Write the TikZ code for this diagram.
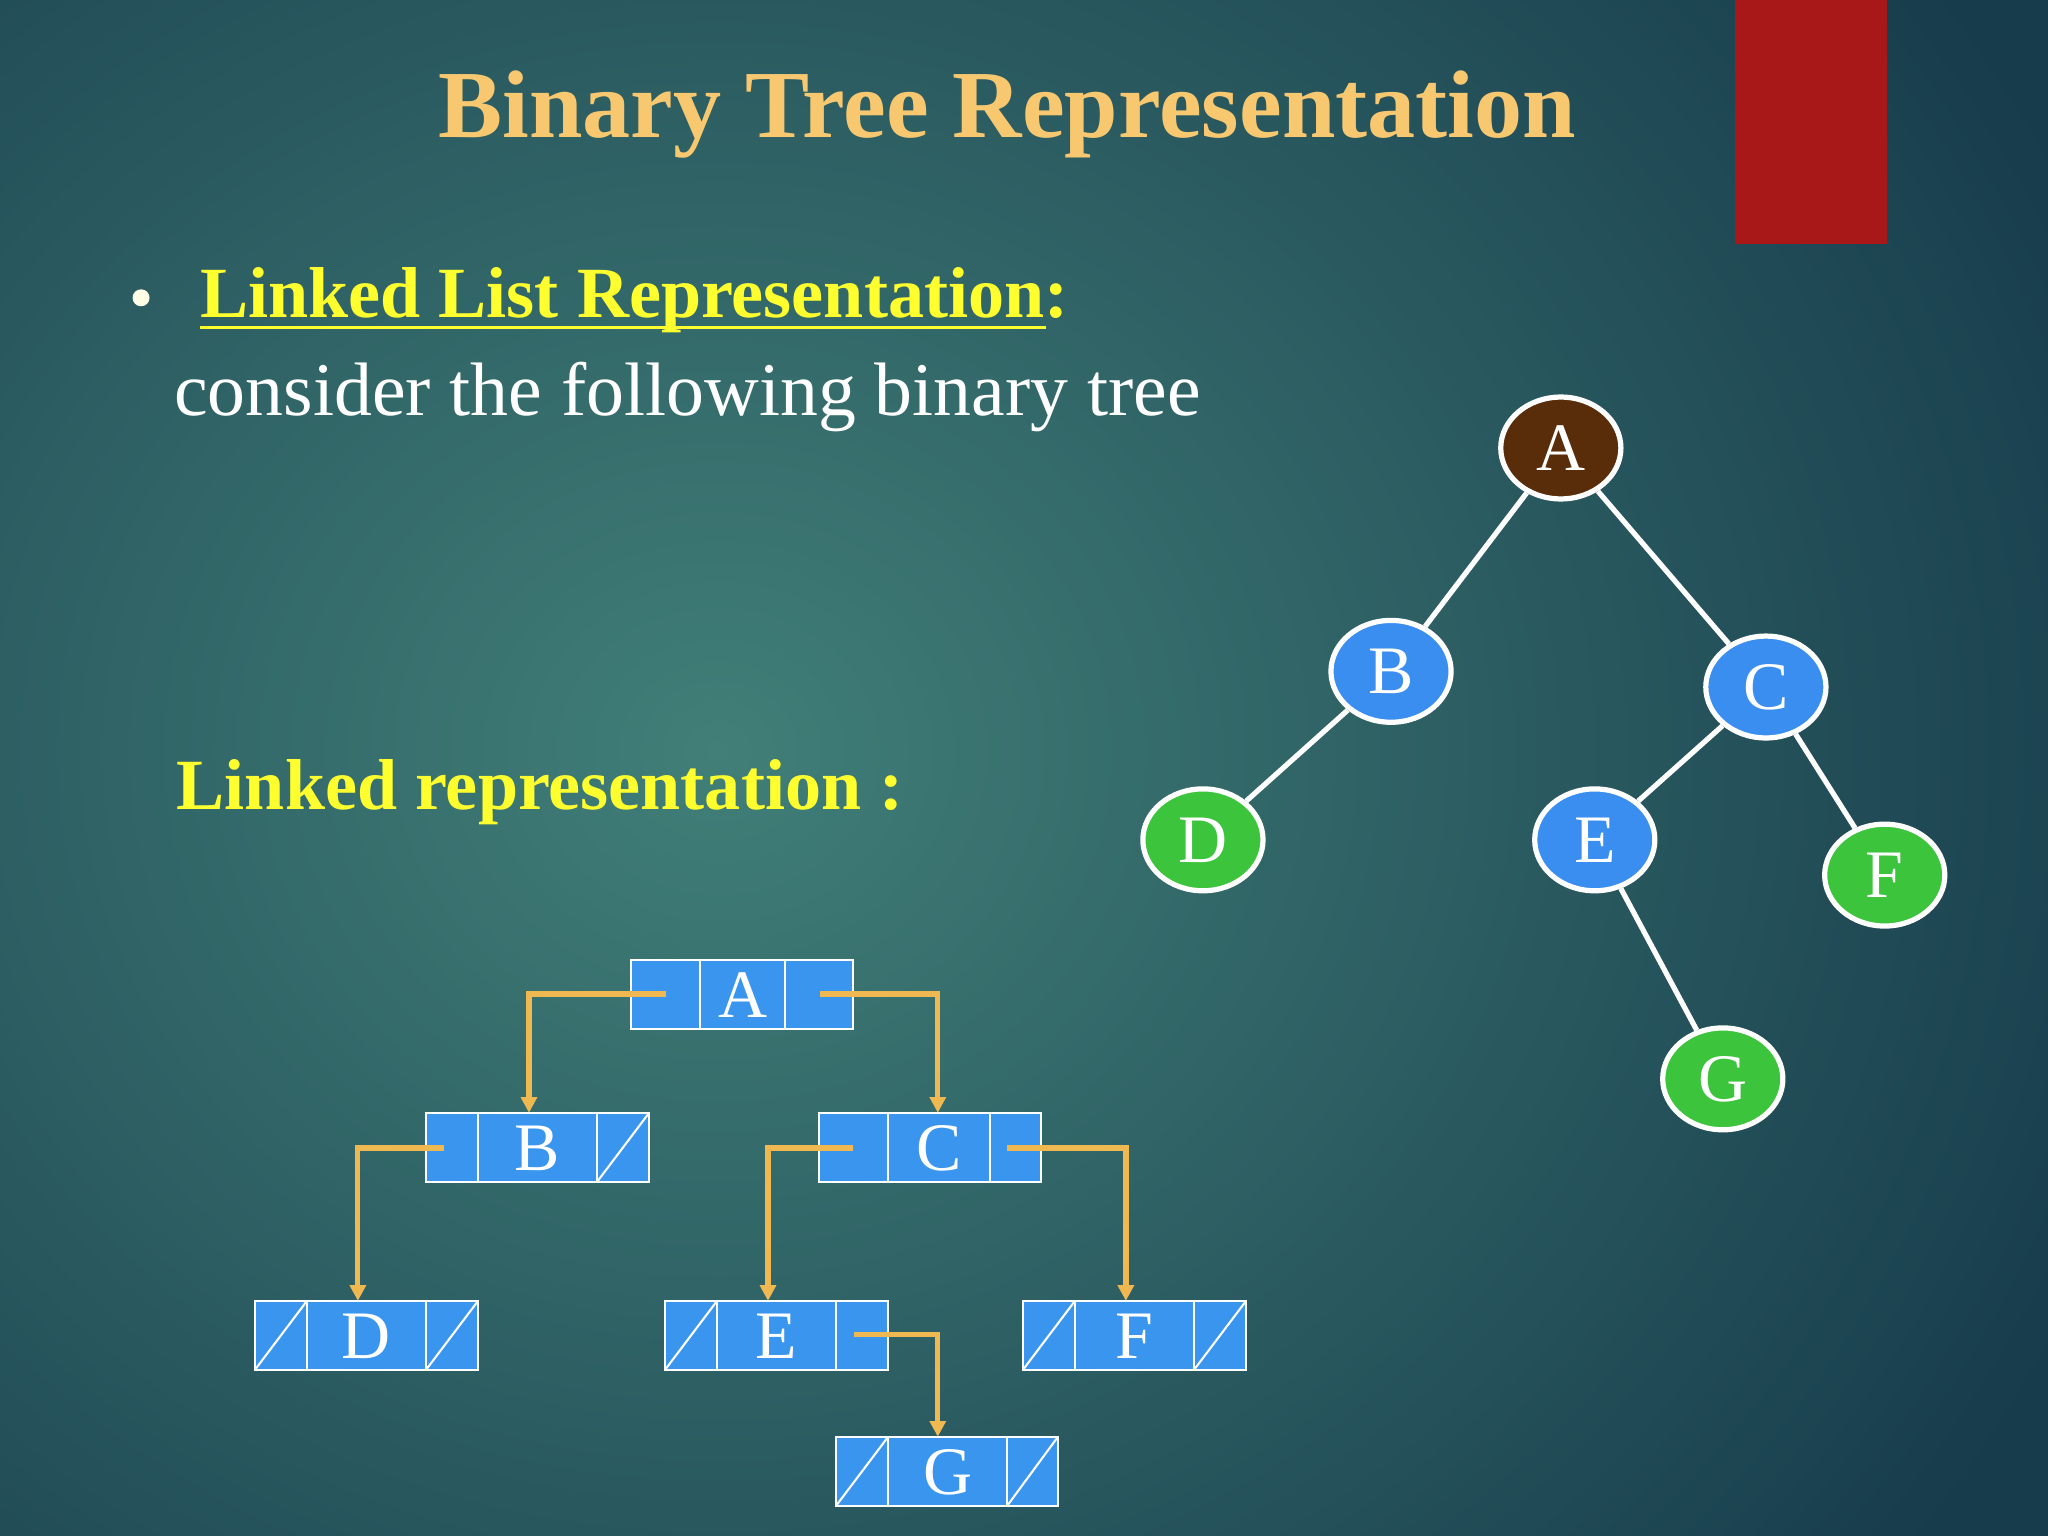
\documentclass[tikz,border=0pt]{standalone}
\usepackage{fontspec}
\setmainfont{Liberation Serif}
\usetikzlibrary{arrows.meta,shapes.geometric}
\definecolor{bgin}{HTML}{417F78}
\definecolor{bgout}{HTML}{173C4C}
\definecolor{titlec}{HTML}{F8C870}
\definecolor{yel}{HTML}{FFFF30}
\definecolor{boxb}{HTML}{3A95EE}
\definecolor{tblue}{HTML}{3A8EF0}
\definecolor{tgreen}{HTML}{3CC43C}
\definecolor{tbrown}{HTML}{5A2D0A}
\definecolor{arr}{HTML}{F0B850}
\definecolor{redb}{HTML}{A81818}
\tikzset{
 tnode/.style={ellipse,draw=white,line width=2pt,minimum width=46pt,minimum height=39pt,inner sep=0pt,text=white,font=\fontsize{26}{26}\selectfont},
 tedge/.style={white,line width=2pt},
 cell/.style={draw=white,line width=0.8pt,fill=boxb},
 lk/.style={arr,line width=2pt,-{Triangle[length=6pt,width=6pt]}},
 slash/.style={white,line width=0.8pt},
}
\newcommand\LLbox[8]{% name, x1, d1, d2, x2, ytop, label, slashes(l/r/b/n)
 \fill[boxb] (#2,#6) rectangle (#5,#6+53);
 \draw[cell] (#2,#6) rectangle (#3,#6+53);
 \draw[cell] (#3,#6) rectangle (#4,#6+53);
 \draw[cell] (#4,#6) rectangle (#5,#6+53);
 \node[text=white,font=\fontsize{26}{26}\selectfont] (#1) at ({(#3+#4)/2},#6+27) {#7};
 \ifx l#8 \draw[slash] (#2,#6+53) -- (#3,#6);\fi
 \ifx r#8 \draw[slash] (#4,#6+53) -- (#5,#6);\fi
 \ifx b#8 \draw[slash] (#2,#6+53) -- (#3,#6); \draw[slash] (#4,#6+53) -- (#5,#6);\fi
}
\begin{document}
\begin{tikzpicture}[x=0.5pt,y=-0.5pt]
\useasboundingbox (0,0) rectangle (1568,1176);
\begin{scope}
\clip (0,0) rectangle (1568,1176);
\shade[inner color=bgin,outer color=bgout] (-600,-450) rectangle (1700,1600);
\end{scope}
\fill[redb] (1328,0) rectangle (1445,187);
\node[anchor=base,text=titlec,font=\fontsize{36.8}{36.8}\selectfont\bfseries] (title) at (771,105) {Binary Tree Representation};
\fill[white!90!yellow] (108,228) circle (6.5);
\node[anchor=base west,text=yel,font=\fontsize{27.6}{27.6}\selectfont\bfseries,inner sep=0pt] (h1) at (153,243) {Linked List Representation:};
\draw[yel,line width=1.2pt] (153,251) -- (801,251);
\node[anchor=base west,text=white,font=\fontsize{29}{29}\selectfont,inner sep=0pt] (t1) at (133,318) {consider the following binary tree};
\node[anchor=base west,text=yel,font=\fontsize{27.6}{27.6}\selectfont\bfseries,inner sep=0pt] (h2) at (135,620) {Linked representation :};
% tree
\node[tnode,fill=tbrown] (A) at (1195,343) {A};
\node[tnode,fill=tblue] (B) at (1065,514) {B};
\node[tnode,fill=tblue] (C) at (1352,526) {C};
\node[tnode,fill=tgreen] (D) at (921,643) {D};
\node[tnode,fill=tblue] (E) at (1221,643) {E};
\node[tnode,fill=tgreen] (F) at (1443,670) {F};
\node[tnode,fill=tgreen] (G) at (1319,826) {G};
\draw[tedge] (A) -- (B); \draw[tedge] (A) -- (C);
\draw[tedge] (B) -- (D); \draw[tedge] (C) -- (E);
\draw[tedge] (C) -- (F); \draw[tedge] (E) -- (G);
% linked boxes
\LLbox{la}{483}{536}{601}{653}{735}{A}{n}
\LLbox{lb}{326}{366}{457}{497}{852}{B}{r}
\LLbox{lc}{627}{680}{758}{797}{852}{C}{n}
\LLbox{ld}{195}{235}{326}{366}{996}{D}{b}
\LLbox{le}{509}{549}{640}{680}{996}{E}{l}
\LLbox{lf}{783}{823}{914}{954}{996}{F}{b}
\LLbox{lg}{640}{680}{771}{810}{1100}{G}{b}
\draw[lk] (510,761) -- (405,761) -- (405,852);
\draw[lk] (628,761) -- (718,761) -- (718,852);
\draw[lk] (340,879) -- (274,879) -- (274,996);
\draw[lk] (653,879) -- (588,879) -- (588,996);
\draw[lk] (771,879) -- (862,879) -- (862,996);
\draw[lk] (654,1022) -- (718,1022) -- (718,1100);
\end{tikzpicture}
\end{document}
